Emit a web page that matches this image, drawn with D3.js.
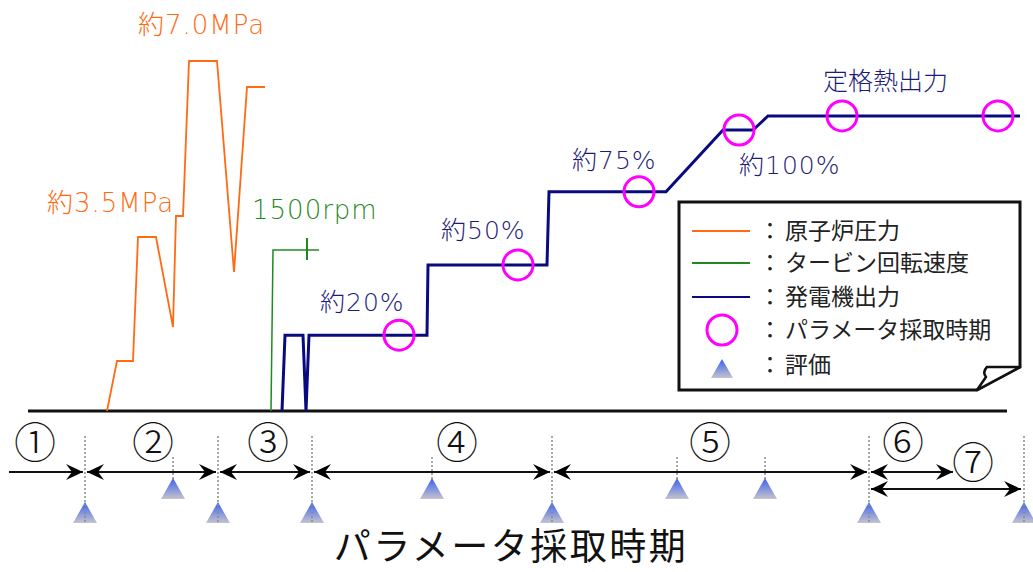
<!DOCTYPE html>
<html>
<head>
<meta charset="utf-8">
<script src="https://d3js.org/d3.v7.min.js"></script>
<style>
  body { margin: 0; background: white; }
  text { font-family: "DejaVu Sans", "Noto Sans CJK JP", sans-serif; }
  .jp { font-family: "Noto Sans CJK JP", sans-serif; }
  .lbl { font-weight: 300; letter-spacing: 1px; }
</style>
</head>
<body>
<div id="chart"></div>
<script>
// ---- data (time in chart units, levels in each series' own unit) ----
var pressureTime = [79, 89, 105, 110, 128, 145, 148, 155, 161, 189, 206, 219, 237];
var pressureMPa  = [0, 1.0, 1.0, 3.48, 3.48, 1.68, 3.9, 3.9, 7.0, 7.0, 2.78, 6.48, 6.48];

var turbineTime = [243, 245, 291];
var turbineRpm  = [0, 1500, 1500];
var turbineMarkTime = 279;

var outputTime = [254, 257, 275, 278, 281, 399, 400, 519, 521, 638, 695, 725, 740, 992];
var outputPct  = [0, 27, 27, 0, 27, 27, 52, 52, 78, 78, 100, 100, 105, 105];

var sampleTime = [371, 490, 611, 711, 814, 970];
var samplePct  = [27, 52, 78, 100, 105, 105];

var outputLabels = ["約20%", "約50%", "約75%", "約100%", "定格熱出力"];
var pressureLabels = ["約3.5MPa", "約7.0MPa"];
var turbineLabel = "1500rpm";

var periodNames  = ["①", "②", "③", "④", "⑤", "⑥", "⑦"];
var periodStart  = [-19, 57, 190, 284, 524, 841, 841];
var periodEnd    = [57, 190, 284, 524, 841, 927, 995];
var evalLow  = [57, 190, 284, 524, 841, 996];
var evalHigh = [145, 404, 649, 737];

var legendNames = ["原子炉圧力", "タービン回転速度", "発電機出力", "パラメータ採取時期", "評価"];
var axisTitle = "パラメータ採取時期";

// ---- layout ----
var W = 1033, H = 572;
var svg = d3.select("#chart").append("svg")
    .attr("width", W).attr("height", H);

var x = d3.scaleLinear().domain([0, 979]).range([28, 1007]);
var yP = d3.scaleLinear().domain([0, 7]).range([411, 61]);
var yT = d3.scaleLinear().domain([0, 1500]).range([411, 250]);
var yO = d3.scaleLinear().domain([0, 100]).range([411, 130]);

var orange = "#ff6a13", green = "#1f8a1f", navy = "#0a0a80", magenta = "#ff00ff";

var defs = svg.append("defs");
var grad = defs.append("linearGradient").attr("id", "triGrad")
    .attr("x1", 0).attr("y1", 0).attr("x2", 0).attr("y2", 1);
grad.append("stop").attr("offset", "0%").attr("stop-color", "#3a5ef0");
grad.append("stop").attr("offset", "100%").attr("stop-color", "#c4c4cc");

function addHead(id, orient) {
  defs.append("marker").attr("id", id)
    .attr("viewBox", "-18 -9 20 18")
    .attr("refX", 0).attr("refY", 0)
    .attr("markerWidth", 20).attr("markerHeight", 18)
    .attr("markerUnits", "userSpaceOnUse")
    .attr("orient", orient)
    .append("path")
    .attr("d", "M0,0 L-17,-8 L-11,0 L-17,8 Z")
    .attr("fill", "#000");
}
addHead("headEnd", "auto");
addHead("headStart", "auto-start-reverse");

// baseline
svg.append("line")
  .attr("x1", x(0)).attr("x2", x(979))
  .attr("y1", yP(0)).attr("y2", yP(0))
  .attr("stroke", "#111").attr("stroke-width", 3);

// reactor pressure
svg.append("path")
  .datum(d3.zip(pressureTime, pressureMPa))
  .attr("d", d3.line().x(function(d) { return x(d[0]); }).y(function(d) { return yP(d[1]); }))
  .attr("fill", "none").attr("stroke", orange).attr("stroke-width", 1.8);

// turbine speed
svg.append("path")
  .datum(d3.zip(turbineTime, turbineRpm))
  .attr("d", d3.line().x(function(d) { return x(d[0]); }).y(function(d) { return yT(d[1]); }))
  .attr("fill", "none").attr("stroke", green).attr("stroke-width", 1.5);
svg.append("line")
  .attr("x1", x(turbineMarkTime)).attr("x2", x(turbineMarkTime))
  .attr("y1", yT(1500) - 12).attr("y2", yT(1500) + 10)
  .attr("stroke", green).attr("stroke-width", 2);

// generator output
svg.append("path")
  .datum(d3.zip(outputTime, outputPct))
  .attr("d", d3.line().x(function(d) { return x(d[0]); }).y(function(d) { return yO(d[1]); }))
  .attr("fill", "none").attr("stroke", navy).attr("stroke-width", 3)
  .attr("stroke-linejoin", "miter");

// sampling circles
svg.selectAll("circle.sample")
  .data(d3.zip(sampleTime, samplePct))
  .enter().append("circle")
  .attr("class", "sample")
  .attr("cx", function(d) { return x(d[0]); })
  .attr("cy", function(d) { return yO(d[1]); })
  .attr("r", 15)
  .attr("fill", "none").attr("stroke", magenta).attr("stroke-width", 3);

// annotations
svg.append("text").attr("class", "lbl").text(pressureLabels[1])
  .attr("x", x(110)).attr("y", 34).attr("fill", orange).attr("font-size", 26);
svg.append("text").attr("class", "lbl").text(pressureLabels[0])
  .attr("x", 47).attr("y", 212).attr("fill", orange).attr("font-size", 26);
svg.append("text").attr("class", "lbl").text(turbineLabel)
  .attr("x", 252).attr("y", 219).attr("fill", green).attr("font-size", 26);

var outLabelPos = [[320, 311], [441, 239], [572, 169], [739, 174], [823, 90]];
svg.selectAll("text.out")
  .data(outputLabels)
  .enter().append("text")
  .attr("class", "out lbl")
  .attr("x", function(d, i) { return outLabelPos[i][0]; })
  .attr("y", function(d, i) { return outLabelPos[i][1]; })
  .attr("fill", "#1c1c78").attr("font-size", 25)
  .style("letter-spacing", function(d, i) { return i === 4 ? "0px" : null; })
  .text(function(d) { return d; });

// ---- legend ----
var lg = svg.append("g");
var bx0 = 679, by0 = 202, bx1 = 1020, by1 = 390;
lg.append("path")
  .attr("d", "M" + bx0 + "," + by0 + "H" + bx1 + "V367L977," + by1 + "H" + bx0 + "Z")
  .attr("fill", "white").attr("stroke", "#111").attr("stroke-width", 3);
lg.append("path")
  .attr("d", "M1020,367 L987,367 Q982,372 986,377 L977,390 Z")
  .attr("fill", "white").attr("stroke", "#111").attr("stroke-width", 2.5)
  .attr("stroke-linejoin", "round");

var rowY = [231, 263, 297, 330, 365];
var lineColors = [orange, green, navy];
lineColors.forEach(function(c, i) {
  lg.append("line")
    .attr("x1", 692).attr("x2", 750)
    .attr("y1", rowY[i]).attr("y2", rowY[i])
    .attr("stroke", c).attr("stroke-width", 2);
});
lg.append("circle").attr("cx", 722).attr("cy", rowY[3]).attr("r", 15)
  .attr("fill", "none").attr("stroke", magenta).attr("stroke-width", 3);
lg.append("path")
  .attr("d", "M722,359 L733,378 L711,378 Z")
  .attr("fill", "url(#triGrad)");
lg.selectAll("text.colon")
  .data(legendNames)
  .enter().append("text")
  .attr("class", "colon jp")
  .attr("x", 770).attr("text-anchor", "middle")
  .attr("y", function(d, i) { return rowY[i] + 8; })
  .attr("font-size", 23).attr("fill", "#222")
  .text("：");
lg.selectAll("text.leg")
  .data(legendNames)
  .enter().append("text")
  .attr("class", "leg jp")
  .attr("x", 785)
  .attr("y", function(d, i) { return rowY[i] + 8; })
  .attr("font-size", 23).attr("fill", "#222")
  .text(function(d) { return d; });

// ---- periods ----
var arrowY = 472;
var periods = periodNames.map(function(n, i) {
  return { name: n, s: periodStart[i], e: periodEnd[i], y: i === 6 ? 489 : arrowY };
});
svg.selectAll("line.period")
  .data(periods)
  .enter().append("line")
  .attr("class", "period")
  .attr("x1", function(d, i) { return x(d.s) + (i === 0 ? 0 : 2); })
  .attr("x2", function(d) { return x(d.e) - 2; })
  .attr("y1", function(d) { return d.y; })
  .attr("y2", function(d) { return d.y; })
  .attr("stroke", "#111").attr("stroke-width", 2)
  .attr("marker-end", "url(#headEnd)")
  .attr("marker-start", function(d, i) { return i === 0 ? null : "url(#headStart)"; });

var numPos = [[35, 443], [153, 443], [268, 443], [457, 443], [710, 443], [903, 443], [973, 463]];
svg.selectAll("text.num")
  .data(periodNames)
  .enter().append("text")
  .attr("class", "num jp")
  .attr("x", function(d, i) { return numPos[i][0]; })
  .attr("y", function(d, i) { return numPos[i][1] + 15; })
  .attr("text-anchor", "middle")
  .attr("font-size", 42).attr("font-weight", 300).attr("fill", "#111")
  .text(function(d) { return d; });

// dotted guides + evaluation triangles
var dotLow = evalLow.map(function(t) { return { t: t, y0: 436, y1: 522 }; });
var dotHigh = evalHigh.map(function(t) { return { t: t, y0: 457, y1: 480 }; });

function tri(cx, top) {
  return "M" + cx + "," + top + "L" + (cx + 12) + "," + (top + 21) + "L" + (cx - 12) + "," + (top + 21) + "Z";
}
svg.selectAll("path.evalLow")
  .data(evalLow)
  .enter().append("path")
  .attr("class", "evalLow")
  .attr("d", function(t) { return tri(x(t), 502); })
  .attr("fill", "url(#triGrad)");
svg.selectAll("path.evalHigh")
  .data(evalHigh)
  .enter().append("path")
  .attr("class", "evalHigh")
  .attr("d", function(t) { return tri(x(t), 478); })
  .attr("fill", "url(#triGrad)");

svg.selectAll("line.guide")
  .data(dotLow.concat(dotHigh))
  .enter().append("line")
  .attr("class", "guide")
  .attr("x1", function(d) { return x(d.t); })
  .attr("x2", function(d) { return x(d.t); })
  .attr("y1", function(d) { return d.y0; })
  .attr("y2", function(d) { return d.y1; })
  .attr("stroke", "#8a8a8a").attr("stroke-width", 1.5)
  .attr("stroke-dasharray", "2,2");

svg.append("text").attr("class", "jp")
  .attr("x", 511).attr("y", 560)
  .attr("text-anchor", "middle")
  .attr("font-size", 37).attr("fill", "#111")
  .style("letter-spacing", "2.5px")
  .text(axisTitle);
</script>
</body>
</html>
